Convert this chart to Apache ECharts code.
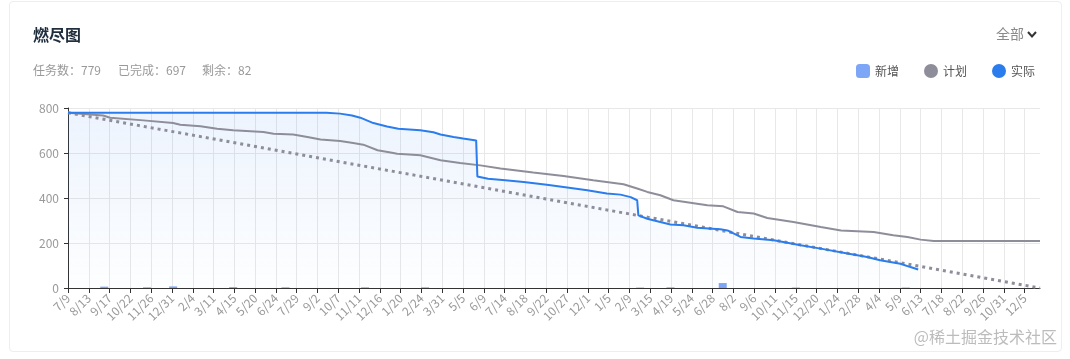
<!DOCTYPE html>
<html>
<head>
<meta charset="utf-8">
<script src="https://cdn.jsdelivr.net/npm/echarts@6/dist/echarts.min.js"></script>
<style>
html,body{margin:0;padding:0;background:#fff;}
#card{position:absolute;left:9px;top:1px;width:1053px;height:351px;border:1px solid #ebeef5;border-radius:4px;box-sizing:border-box;}
#chart{position:absolute;left:0;top:0;width:1070px;height:359px;}
</style>
</head>
<body>
<div id="card"></div>
<div id="chart"></div>
<script>
// ---- data ----
var startDate = '2017-07-09';
var endDate = '2021-12-31';
var yTicks = [0, 200, 400, 600, 800];
var titleText = '燃尽图';
var summaryTexts = ['任务数：779', '已完成：697', '剩余：82'];
var legendNames = ['新增', '计划', '实际'];

// 实际 (actual remaining) readings
var actualDates = ['2017-07-09','2018-09-17','2018-10-10','2018-10-30','2018-11-13','2018-12-05','2018-12-28','2019-01-16','2019-02-22','2019-03-16','2019-03-28','2019-04-19','2019-05-05','2019-05-27','2019-05-29','2019-06-16','2019-07-15','2019-08-15','2019-09-23','2019-10-21','2019-11-30','2020-01-02','2020-01-25','2020-02-11','2020-02-22','2020-02-24','2020-03-10','2020-03-20','2020-04-18','2020-05-10','2020-06-02','2020-07-11','2020-07-23','2020-07-28','2020-08-14','2020-09-05','2020-10-09','2020-11-23','2020-12-27','2021-02-10','2021-03-15','2021-04-06','2021-05-10','2021-05-27','2021-06-09'];
var actualValues = [779,779,775,767,757,733,718,708,701,692,682,671,664,656,496,486,479,471,459,449,434,420,415,404,390,323,308,301,282,279,268,261,256,249,227,220,212,190,175,153,138,123,108,93,82];

// 计划 (plan) readings
var planDates = ['2017-07-09','2017-09-06','2017-09-18','2017-11-13','2018-01-02','2018-01-14','2018-02-17','2018-03-17','2018-04-13','2018-06-03','2018-06-20','2018-07-23','2018-08-16','2018-09-07','2018-10-10','2018-11-01','2018-11-18','2018-12-12','2019-01-03','2019-01-14','2019-02-22','2019-03-28','2019-04-30','2019-06-03','2019-07-07','2019-08-31','2019-10-21','2019-12-10','2020-01-30','2020-02-22','2020-03-10','2020-04-01','2020-04-23','2020-06-19','2020-07-16','2020-08-09','2020-09-05','2020-09-28','2020-11-11','2020-12-27','2021-01-30','2021-03-26','2021-04-28','2021-05-22','2021-06-13','2021-07-05','2021-12-31'];
var planValues = [779,767,757,745,733,726,719,708,701,693,686,682,671,660,653,644,637,612,602,597,590,568,556,545,531,513,498,479,461,442,427,412,390,368,363,338,331,311,293,271,256,249,234,227,215,209,209];

// ideal burndown (dotted)
var idealDates = ['2017-07-09', '2021-12-31'];
var idealValues = [779, 0];

// 新增 (new tasks) bars
var addedDates = ['2017-09-08','2017-11-19','2018-01-02','2018-04-13','2018-07-10','2018-11-21','2019-03-02','2020-02-27','2020-04-18','2020-07-15','2020-11-15','2021-05-19'];
var addedValues = [6,3,7,4,3,3,3,2,3,22,2,2];

// ---- build categories (every day) ----
function fmt(d){
  var m = d.getUTCMonth()+1, dd = d.getUTCDate();
  return d.getUTCFullYear()+'-'+(m<10?'0':'')+m+'-'+(dd<10?'0':'')+dd;
}
var categories = [];
(function(){
  var s = startDate.split('-'), e = endDate.split('-');
  var t = Date.UTC(+s[0], +s[1]-1, +s[2]);
  var te = Date.UTC(+e[0], +e[1]-1, +e[2]);
  for(; t <= te; t += 86400000){ categories.push(fmt(new Date(t))); }
})();
function pairs(ds, vs){ return ds.map(function(d,i){ return [d, vs[i]]; }); }

var FONT = "'Noto Sans CJK SC','Noto Sans',sans-serif";
var chart = echarts.init(document.getElementById('chart'), null, {renderer:'canvas'});
chart.setOption({
  animation: false,
  textStyle: {fontFamily: FONT},
  grid: {left: 68, right: 30, top: 108, bottom: 71},
  legend: {
    selectedMode: false,
    right: 35, top: 64, padding: 0,
    itemWidth: 14, itemHeight: 14, itemGap: 25,
    textStyle: {fontSize: 12, color: '#555', fontFamily: FONT},
    data: [
      {name: legendNames[0], icon: 'roundRect'},
      {name: legendNames[1], icon: 'circle'},
      {name: legendNames[2], icon: 'circle'}
    ]
  },
  xAxis: {
    type: 'category',
    data: categories,
    boundaryGap: false,
    axisLine: {lineStyle: {color: '#333'}},
    axisTick: {interval: 34, length: 5, lineStyle: {color: '#333'}},
    axisLabel: {
      interval: 34, rotate: 45, color: '#999', fontSize: 12, margin: 8, fontFamily: FONT,
      formatter: function(v){ var p = v.split('-'); return (+p[1]) + '/' + (+p[2]); }
    },
    splitLine: {show: true, interval: 34, lineStyle: {color: '#e8e8e8'}}
  },
  yAxis: {
    type: 'value',
    min: yTicks[0], max: yTicks[yTicks.length-1], interval: 200,
    axisLine: {show: true, lineStyle: {color: '#333'}},
    axisTick: {show: true, length: 4, lineStyle: {color: '#333'}},
    axisLabel: {color: '#999', fontSize: 12, margin: 9, fontFamily: FONT},
    splitLine: {lineStyle: {color: '#e8e8e8'}}
  },
  series: [
    {
      name: legendNames[0], type: 'bar', barWidth: 8,
      itemStyle: {color: '#7ea6f6'},
      data: pairs(addedDates, addedValues)
    },
    {
      name: legendNames[1], type: 'line', showSymbol: false,
      itemStyle: {color: '#8e8e9a'},
      lineStyle: {color: '#8e8e9a', width: 2},
      data: pairs(planDates, planValues)
    },
    {
      name: '理想', type: 'line', showSymbol: false,
      itemStyle: {color: '#8e8e9a'},
      lineStyle: {color: '#8e8e9a', width: 3, type: [3, 4]},
      data: pairs(idealDates, idealValues)
    },
    {
      name: legendNames[2], type: 'line', showSymbol: false,
      itemStyle: {color: '#2b7ded'},
      lineStyle: {color: '#2b7ded', width: 2},
      areaStyle: {
        color: new echarts.graphic.LinearGradient(0,0,0,1,[
          {offset: 0, color: 'rgba(43,125,237,0.12)'},
          {offset: 1, color: 'rgba(43,125,237,0.01)'}
        ])
      },
      data: pairs(actualDates, actualValues)
    }
  ],
  graphic: [
    {type:'text', x:33, y:35, style:{text:titleText, font:'bold 16px '+FONT, fill:'#1f2d3d', verticalAlign:'middle'}},
    {type:'text', x:33, y:70.5, style:{text:summaryTexts[0], font:'12px '+FONT, fill:'#999', verticalAlign:'middle'}},
    {type:'text', x:118, y:70.5, style:{text:summaryTexts[1], font:'12px '+FONT, fill:'#999', verticalAlign:'middle'}},
    {type:'text', x:202, y:70.5, style:{text:summaryTexts[2], font:'12px '+FONT, fill:'#999', verticalAlign:'middle'}},
    {type:'text', x:996, y:34, style:{text:'全部', font:'14px '+FONT, fill:'#8a8a8a', verticalAlign:'middle'}},
    {type:'polyline', shape:{points:[[1028,32],[1032,36.5],[1036,32]]}, style:{stroke:'#333', lineWidth:2, fill:null}},
    {type:'text', x:1057, y:337, style:{text:'@稀土掘金技术社区', font:'16px '+FONT, fill:'#bcbcbc', align:'right', verticalAlign:'middle'}}
  ]
});
</script>
</body>
</html>
